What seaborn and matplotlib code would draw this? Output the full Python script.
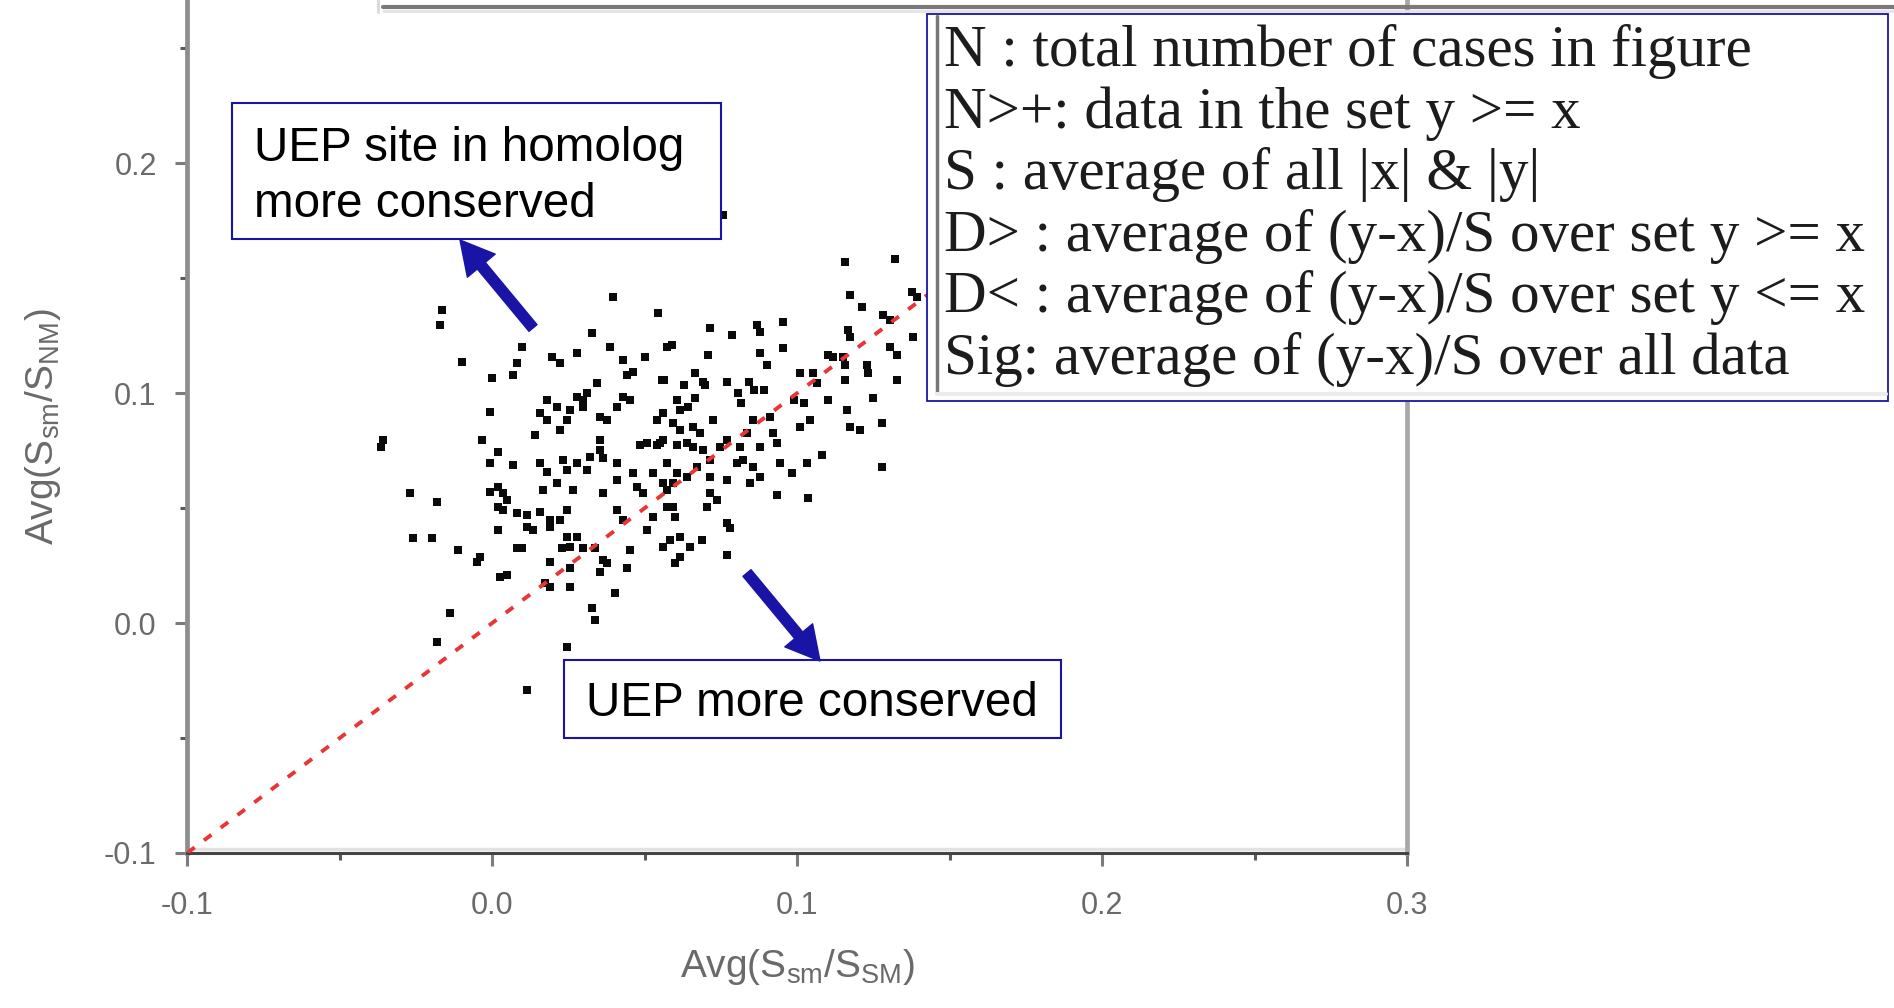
import matplotlib
matplotlib.use("Agg")
import matplotlib.pyplot as plt
import seaborn as sns
from matplotlib.patches import Rectangle, FancyArrowPatch
from matplotlib.lines import Line2D
from matplotlib.ticker import MultipleLocator, FormatStrFormatter
from matplotlib.transforms import ScaledTranslation

# Averaged score ratios, one entry per case
x_values = [
    -0.0166, -0.0171, 0.0396, 0.0544, 0.0327, 0.0386, 0.0098, 0.0081, 0.0068, -0.0099,
    -0.0001, 0.0196, 0.0222, 0.0278, 0.0429, 0.0462, 0.0442, 0.0501, 0.0573, 0.0557,
    0.0343, 0.0311, 0.0298, 0.0278, 0.0429, 0.0452, 0.0180, 0.0212, 0.0157, 0.0180,
    0.0255, 0.0298, 0.0222, 0.0245, 0.0353, 0.0376, 0.0409, -0.0007, 0.0540, 0.0560,
    0.0140, -0.0033, -0.0358, 0.0353, 0.0507, 0.0550, -0.0366,
    0.0757, 0.1157, 0.1321, 0.1173, 0.1213, 0.1377, 0.1393, 0.1281, 0.1304, 0.0714,
    0.0786, 0.0868, 0.0878, 0.0954, 0.1167, 0.1173, 0.0589, 0.0708, 0.0878, 0.0954,
    0.0901, 0.1150, 0.1157, 0.1101, 0.1117, 0.1010, 0.1052, 0.1065, 0.1229, 0.1232,
    0.1304, 0.1327, 0.1380, 0.1327, 0.0665, 0.0692, 0.0698, 0.0563, 0.0629, 0.0770,
    0.0842, 0.0858, 0.0891, 0.1157, 0.1249, 0.0665, 0.0642, 0.0806, 0.0816, 0.0990,
    0.1023, 0.1101, 0.1163, 0.0606, 0.0616, 0.0593, 0.0616, 0.0659, 0.0681, 0.0724,
    0.0855, 0.0911, 0.0921, 0.1010, 0.1042, 0.1173, 0.1206, 0.1278, 0.0770, 0.0835,
    0.0560, 0.0639,
    0.0019, -0.0007, 0.0068, 0.0157, 0.0180, 0.0232, 0.0245, 0.0278, 0.0311, 0.0320,
    0.0353, 0.0363, 0.0409, 0.0484, 0.0540, 0.0462, 0.0527, 0.0212, 0.0265, 0.0409,
    0.0475, 0.0494, 0.0560, 0.0019, 0.0035, -0.0007, 0.0048, 0.0166, -0.0270, -0.0181,
    0.0019, 0.0035, 0.0081, 0.0114, 0.0157, 0.0189, 0.0222, 0.0245, 0.0363, 0.0409,
    0.0429, 0.0507, 0.0527, 0.0573, 0.0019, 0.0114, 0.0134, 0.0189, 0.0245, 0.0278,
    0.0255, -0.0260, -0.0197, -0.0112, -0.0040, -0.0050, 0.0081, 0.0098, 0.0229, 0.0298,
    0.0337, 0.0363, 0.0376, 0.0452, 0.0442, 0.0560, 0.0189, 0.0255, 0.0353, 0.0026,
    0.0048, 0.0173, 0.0189, 0.0255, 0.0402, 0.0327, 0.0337, -0.0138, -0.0181, 0.0245,
    0.0255, 0.0114,
    0.0606, 0.0659, 0.0691, 0.0747, 0.0812, 0.0878, 0.0934, 0.0803, 0.0822, 0.0855,
    0.0944, 0.0983, 0.1032, 0.1081, 0.1278, 0.0573, 0.0606, 0.0639, 0.0672, 0.0714,
    0.0714, 0.0770, 0.0845, 0.0878, 0.0573, 0.0593, 0.0714, 0.0737, 0.0934, 0.1035,
    0.0593, 0.0600, 0.0704, 0.0770, 0.0780, 0.0583, 0.0616, 0.0649, 0.0688, 0.0600,
    0.0616, 0.0770,
]
y_values = [
    0.1361, 0.1296, 0.1418, 0.1348, 0.1261, 0.1201, 0.1201, 0.1131, 0.1079, 0.1135,
    0.1066, 0.1157, 0.1131, 0.1174, 0.1144, 0.1092, 0.1079, 0.1157, 0.1201, 0.1057,
    0.1044, 0.1000, 0.0970, 0.0983, 0.0983, 0.0970, 0.0970, 0.0940, 0.0913, 0.0883,
    0.0926, 0.0940, 0.0839, 0.0883, 0.0896, 0.0883, 0.0940, 0.0918, 0.0883, 0.0913,
    0.0818, 0.0796, 0.0796, 0.0796, 0.0783, 0.0783, 0.0766,
    0.1775, 0.1570, 0.1583, 0.1427, 0.1375, 0.1440, 0.1418, 0.1340, 0.1318, 0.1283,
    0.1253, 0.1296, 0.1266, 0.1309, 0.1274, 0.1244, 0.1209, 0.1166, 0.1174, 0.1196,
    0.1122, 0.1157, 0.1122, 0.1166, 0.1157, 0.1087, 0.1087, 0.1044, 0.1122, 0.1087,
    0.1201, 0.1166, 0.1244, 0.1057, 0.1087, 0.1048, 0.1035, 0.1057, 0.1035, 0.1048,
    0.1048, 0.1013, 0.1013, 0.1057, 0.0979, 0.0979, 0.0940, 0.1000, 0.0957, 0.0970,
    0.0957, 0.0970, 0.0926, 0.0970, 0.0926, 0.0870, 0.0839, 0.0853, 0.0826, 0.0883,
    0.0883, 0.0896, 0.0826, 0.0853, 0.0883, 0.0853, 0.0839, 0.0870, 0.0796, 0.0826,
    0.0796, 0.0783,
    0.0744, 0.0696, 0.0687, 0.0696, 0.0657, 0.0709, 0.0666, 0.0696, 0.0666, 0.0722,
    0.0752, 0.0718, 0.0696, 0.0774, 0.0774, 0.0652, 0.0652, 0.0609, 0.0579, 0.0622,
    0.0592, 0.0565, 0.0609, 0.0592, 0.0565, 0.0570, 0.0535, 0.0579, 0.0565, 0.0526,
    0.0505, 0.0492, 0.0478, 0.0470, 0.0483, 0.0448, 0.0448, 0.0492, 0.0565, 0.0492,
    0.0448, 0.0405, 0.0461, 0.0505, 0.0405, 0.0418, 0.0405, 0.0418, 0.0374, 0.0374,
    0.0331, 0.0370, 0.0370, 0.0318, 0.0287, 0.0265, 0.0326, 0.0326, 0.0326, 0.0326,
    0.0326, 0.0274, 0.0261, 0.0318, 0.0239, 0.0331, 0.0265, 0.0239, 0.0222, 0.0200,
    0.0209, 0.0174, 0.0157, 0.0157, 0.0130, 0.0065, 0.0013, 0.0043, -0.0083, -0.0104,
    -0.0204, -0.0291,
    0.0774, 0.0766, 0.0752, 0.0766, 0.0766, 0.0766, 0.0783, 0.0696, 0.0709, 0.0679,
    0.0696, 0.0652, 0.0696, 0.0731, 0.0679, 0.0696, 0.0652, 0.0635, 0.0679, 0.0709,
    0.0635, 0.0622, 0.0609, 0.0635, 0.0579, 0.0609, 0.0565, 0.0535, 0.0557, 0.0544,
    0.0505, 0.0461, 0.0505, 0.0435, 0.0413, 0.0361, 0.0374, 0.0331, 0.0361, 0.0261,
    0.0287, 0.0296,
]

x_ticks = [-0.1, 0.0, 0.1, 0.2, 0.3]
y_ticks = [-0.1, 0.0, 0.1, 0.2]
diagonal = [-0.1, 0.2]

x_label = r"Avg(S$_{sm}$/S$_{SM}$)"
y_label = r"Avg(S$_{sm}$/S$_{NM}$)"
note_up = ["UEP site in homolog", "more conserved"]
note_down = "UEP more conserved"
legend_lines = [
    "N : total number of cases in figure",
    "N>+: data in the set y >= x",
    "S : average of all |x| & |y|",
    "D> : average of (y-x)/S over set y >= x",
    "D< : average of (y-x)/S over set y <= x",
    "Sig: average of (y-x)/S over all data",
]

W, H = 1894, 1008
sns.set_style("white")
plt.rcParams["font.family"] = ["Liberation Sans", "DejaVu Sans"]
plt.rcParams["mathtext.default"] = "regular"


def fx(px):
    return px / W


def fy(py):
    return 1.0 - py / H


fig = plt.figure(figsize=(W / 100, H / 100), dpi=100)
ax = fig.add_axes([fx(187.2), fy(853), fx(1407) - fx(187.2), fy(0) - fy(853)])

sns.scatterplot(x=x_values, y=y_values, ax=ax, marker="s", s=40,
                color="#0a0a0a", linewidth=0, zorder=3)
sns.lineplot(x=diagonal, y=diagonal, ax=ax, color="#e83636", linewidth=2.8,
             linestyle=(0, (2.4, 3.0)), zorder=4)

ax.set_xlim(-0.1, 0.3)
ax.set_ylim(-0.1, 0.271)
ax.set_xticks(x_ticks)
ax.set_yticks(y_ticks)
ax.xaxis.set_minor_locator(MultipleLocator(0.05))
ax.yaxis.set_minor_locator(MultipleLocator(0.05))
ax.xaxis.set_major_formatter(FormatStrFormatter("%.1f"))
ax.yaxis.set_major_formatter(FormatStrFormatter("%.1f"))

ax.spines["top"].set_visible(False)
ax.spines["left"].set_color("#8e8e8e")
ax.spines["left"].set_linewidth(3.4)
ax.spines["bottom"].set_color("#444444")
ax.spines["bottom"].set_linewidth(2.2)
ax.spines["right"].set_color("#a8a8a8")
ax.spines["right"].set_linewidth(3.4)

ax.tick_params(which="both", bottom=True, left=True, top=False, right=False,
               direction="out")
ax.tick_params(which="major", length=9, width=2.2, color="#7c7c7c",
               labelsize=22, labelcolor="#6a6a6a")
ax.tick_params(which="minor", length=5, width=2.2, color="#5a5a5a")
ax.tick_params(axis="x", which="major", pad=18)
ax.tick_params(axis="y", which="major", pad=13)

ax.set_xlabel(x_label, fontsize=28, color="#6a6a6a")
ax.set_ylabel(y_label, fontsize=28, color="#6a6a6a")
ax.xaxis.set_label_coords(0.5, -0.11)
ax.yaxis.set_label_coords(-0.102, 0.5)

# light band just above the x axis line
band = ax.axhline(-0.1, color="#e2e2e2", linewidth=2.5, zorder=1)
band.set_transform(band.get_transform() + ScaledTranslation(0, 4 / 100, fig.dpi_scale_trans))

blue = "#1a14a6"

# frame line along the top edge
fig.add_artist(Line2D([fx(383), 1.0], [fy(7), fy(7)], color="#7a7a7a",
                      linewidth=3, transform=fig.transFigure, zorder=2))
fig.add_artist(Line2D([fx(383), 1.0], [fy(11), fy(11)], color="#e4e4e4",
                      linewidth=2, transform=fig.transFigure, zorder=2))
fig.add_artist(Line2D([fx(378), fx(378)], [fy(0), fy(12)], color="#d8d8d8",
                      linewidth=2, transform=fig.transFigure, zorder=2))

# definitions box
fig.add_artist(Rectangle((fx(927), fy(401)), fx(1888 - 927), (401 - 14) / H,
                         facecolor="white", edgecolor=blue, linewidth=1.3,
                         transform=fig.transFigure, zorder=5))
fig.add_artist(Line2D([fx(937), fx(937)], [fy(16), fy(392)], color="#777777",
                      linewidth=2.5, transform=fig.transFigure, zorder=6))
fig.add_artist(Line2D([fx(937), fx(1886)], [fy(394), fy(394)], color="#ececec",
                      linewidth=3, transform=fig.transFigure, zorder=6))
for i, line in enumerate(legend_lines):
    fig.text(fx(944), fy(66 + 61.6 * i), line, fontsize=42.5,
             family=["Liberation Serif", "DejaVu Serif"], color="#1c1c1c",
             ha="left", va="baseline", zorder=7)

# annotation boxes
fig.add_artist(Rectangle((fx(232), fy(239)), fx(721 - 232), (239 - 103) / H,
                         facecolor="white", edgecolor=blue, linewidth=1.5,
                         transform=fig.transFigure, zorder=5))
fig.text(fx(254), fy(161), note_up[0], fontsize=34.3, color="black",
         ha="left", va="baseline", zorder=7)
fig.text(fx(254), fy(217), note_up[1], fontsize=34.3, color="black",
         ha="left", va="baseline", zorder=7)

fig.add_artist(Rectangle((fx(564), fy(738)), fx(1061 - 564), (738 - 660) / H,
                         facecolor="white", edgecolor=blue, linewidth=1.5,
                         transform=fig.transFigure, zorder=5))
fig.text(fx(586), fy(716), note_down, fontsize=34.3, color="black",
         ha="left", va="baseline", zorder=7)

arrow_style = "simple,head_length=24,head_width=26,tail_width=7.5"
for tail, tip in [((533, 328), (460, 240)), ((747, 573), (820, 661))]:
    fig.add_artist(FancyArrowPatch((fx(tail[0]), fy(tail[1])), (fx(tip[0]), fy(tip[1])),
                                   arrowstyle=arrow_style, mutation_scale=1,
                                   color=blue, shrinkA=0, shrinkB=0,
                                   transform=fig.transFigure, zorder=6))

fig.savefig("out.png", dpi=100)
